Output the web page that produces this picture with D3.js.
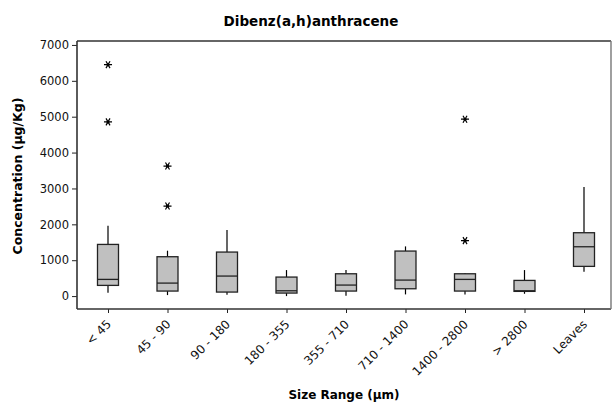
<!DOCTYPE html>
<html>
<head>
<meta charset="utf-8">
<script src="https://cdn.jsdelivr.net/npm/d3@7"></script>
<style>
  html, body { margin: 0; padding: 0; background: #fff; }
  svg { display: block; font-family: "DejaVu Sans", Verdana, sans-serif; }
</style>
</head>
<body>
<svg id="chart" width="613" height="407"></svg>
<script>
// Dibenz(a,h)anthracene concentration by particle size range
const categories = ["< 45", "45 - 90", "90 - 180", "180 - 355", "355 - 710",
                    "710 - 1400", "1400 - 2800", "> 2800", "Leaves"];
const whiskerLow  = [92, 28, 37, 0, 9, 47, 47, 64, 678];
const q1          = [298, 140, 112, 84, 140, 204, 140, 131, 828];
const median      = [465, 362, 558, 148, 307, 446, 465, 148, 1375];
const q3          = [1440, 1097, 1227, 530, 622, 1255, 622, 437, 1766];
const whiskerHigh = [1960, 1265, 1840, 725, 725, 1385, 640, 725, 3040];
const outliers    = [[6450, 4855], [3625, 2510], [], [], [], [], [4930, 1545], [], []];
const yTicks      = [0, 1000, 2000, 3000, 4000, 5000, 6000, 7000];

const svg = d3.select("#chart");
const frame = { left: 77, right: 611, top: 41, bottom: 309 };

const x = d3.scalePoint().domain(categories).range([108, 584]);
const y = d3.scaleLinear().domain([-360, 7110]).range([frame.bottom, frame.top]);
const boxW = 21;

const stats = categories.map((c, i) => ({
  cat: c, lo: whiskerLow[i], q1: q1[i], med: median[i], q3: q3[i], hi: whiskerHigh[i], out: outliers[i]
}));

// Axes
const yAxis = d3.axisLeft(y).tickValues(yTicks).tickSize(5).tickPadding(3).tickFormat(d3.format("d"));
const gy = svg.append("g").attr("transform", `translate(${frame.left},0)`).call(yAxis);
gy.select(".domain").remove();
gy.selectAll("line").attr("stroke", "#222");
gy.selectAll("text").attr("font-size", "11.5px").attr("fill", "#111")
  .attr("font-family", "DejaVu Sans, sans-serif");

const xAxis = d3.axisBottom(x).tickSize(4).tickFormat("");
const gx = svg.append("g").attr("transform", `translate(0,${frame.bottom})`).call(xAxis);
gx.select(".domain").remove();
gx.selectAll("line").attr("stroke", "#222");

// Rotated category labels
svg.append("g").selectAll("text").data(categories).join("text")
  .attr("transform", d => `translate(${x(d) + 1},${frame.bottom + 13}) rotate(-45)`)
  .attr("text-anchor", "end")
  .attr("dy", "0.35em")
  .attr("font-size", "12px")
  .attr("fill", "#111")
  .text(d => d);

// Boxes
const g = svg.append("g");
const grp = g.selectAll("g.box").data(stats).join("g").attr("class", "box");

grp.append("line")
  .attr("x1", d => x(d.cat)).attr("x2", d => x(d.cat))
  .attr("y1", d => y(d.q3)).attr("y2", d => y(d.hi))
  .attr("stroke", "#000").attr("stroke-width", 1.2);
grp.append("line")
  .attr("x1", d => x(d.cat)).attr("x2", d => x(d.cat))
  .attr("y1", d => y(d.q1)).attr("y2", d => y(d.lo))
  .attr("stroke", "#000").attr("stroke-width", 1.2);
grp.append("rect")
  .attr("x", d => x(d.cat) - boxW / 2).attr("width", boxW)
  .attr("y", d => y(d.q3)).attr("height", d => y(d.q1) - y(d.q3))
  .attr("fill", "#c0c0c0").attr("stroke", "#222").attr("stroke-width", 1.3);
grp.append("line")
  .attr("x1", d => x(d.cat) - boxW / 2).attr("x2", d => x(d.cat) + boxW / 2)
  .attr("y1", d => y(d.med)).attr("y2", d => y(d.med))
  .attr("stroke", "#222").attr("stroke-width", 1.3);

// Outliers
const star = d3.symbol().type(d3.symbolAsterisk).size(45);
grp.each(function (d) {
  d3.select(this).selectAll("path.out").data(d.out).join("path")
    .attr("class", "out")
    .attr("transform", v => `translate(${x(d.cat)},${y(v)}) rotate(90)`)
    .attr("d", star)
    .attr("fill", "none").attr("stroke", "#000").attr("stroke-width", 1.2);
  d3.select(this).selectAll("circle.out").data(d.out).join("circle")
    .attr("class", "out")
    .attr("cx", x(d.cat)).attr("cy", v => y(v)).attr("r", 1.5).attr("fill", "#000");
});

// Frame
svg.append("line").attr("x1", frame.left).attr("x2", frame.right)
  .attr("y1", frame.top).attr("y2", frame.top).attr("stroke", "#333").attr("stroke-width", 1.6);
svg.append("line").attr("x1", frame.left).attr("x2", frame.right)
  .attr("y1", frame.bottom).attr("y2", frame.bottom).attr("stroke", "#333").attr("stroke-width", 1.6);
svg.append("line").attr("x1", frame.left).attr("x2", frame.left)
  .attr("y1", frame.top).attr("y2", frame.bottom).attr("stroke", "#333").attr("stroke-width", 1.6);
svg.append("line").attr("x1", frame.right).attr("x2", frame.right)
  .attr("y1", frame.top).attr("y2", frame.bottom).attr("stroke", "#777").attr("stroke-width", 1.4);

// Titles
svg.append("text").attr("x", 311).attr("y", 26).attr("text-anchor", "middle")
  .attr("font-size", "13.5px").attr("font-weight", "bold").attr("fill", "#000")
  .text("Dibenz(a,h)anthracene");
svg.append("text").attr("x", 344).attr("y", 399).attr("text-anchor", "middle")
  .attr("font-size", "12px").attr("font-weight", "bold").attr("fill", "#000")
  .text("Size Range (µm)");
svg.append("text").attr("transform", `translate(22,176) rotate(-90)`).attr("text-anchor", "middle")
  .attr("font-size", "12.5px").attr("font-weight", "bold").attr("fill", "#000")
  .text("Concentration (µg/Kg)");
</script>
</body>
</html>
